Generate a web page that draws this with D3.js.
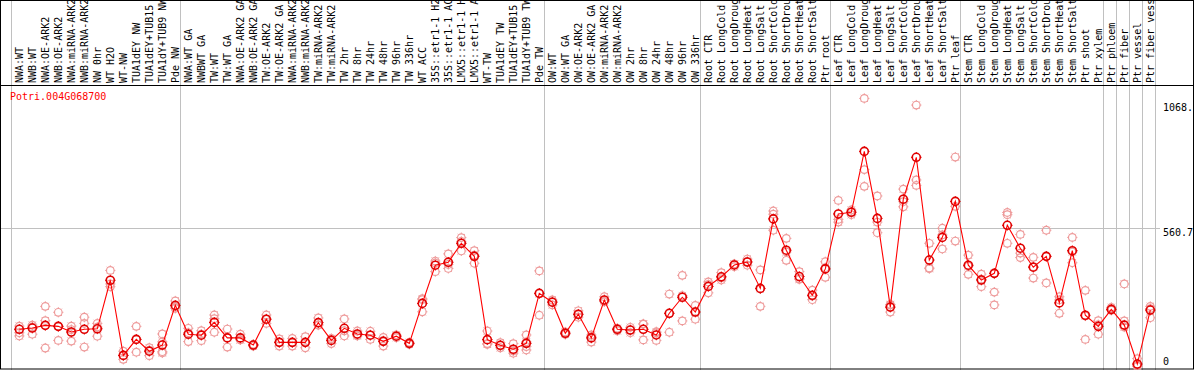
<!DOCTYPE html>
<html><head><meta charset="utf-8">
<script src="https://cdn.jsdelivr.net/npm/d3@7"></script>
<style>
body{margin:0;background:#fff}
svg{display:block}
text{font-family:"DejaVu Sans Mono","Liberation Mono",monospace;font-size:10px}
</style>
</head><body>
<svg id="chart" width="1194" height="370"></svg>
<script>
const geneId = "Potri.004G068700";
const categories = [
"NWA:WT","NWB:WT","NWA:OE-ARK2","NWB:OE-ARK2","NWA:miRNA-ARK2","NWB:miRNA-ARK2","NW 0hr","WT H2O","WT-NW","TUA1dEY NW",
"TUA1dEY+TUB15","TUA1dY+TUB9 NW","Pde NW","NWA:WT GA","NWBWT GA","TW:WT","TW:WT GA","NWA:OE-ARK2 GA","NWB:OE-ARK2 GA","TW:OE-ARK2",
"TW:OE-ARK2 GA","NWA:miRNA-ARK2","NWB:miRNA-ARK2","TW:miRNA-ARK2","TW:miRNA-ARK2","TW 2hr","TW 8hr","TW 24hr","TW 48hr","TW 96hr",
"TW 336hr","WT ACC","35S::etr1-1 H2","35S::etr1-1 AC","LMX5::etr1-1 H","LMX5::etr1-1 A","WT-TW","TUA1dEY TW","TUA1dEY+TUB15","TUA1dY+TUB9 TW",
"Pde TW","OW:WT","OW:WT GA","OW:OE-ARK2","OW:OE-ARK2 GA","OW:miRNA-ARK2","OW:miRNA-ARK2","OW 2hr","OW 8hr","OW 24hr",
"OW 48hr","OW 96hr","OW 336hr","Root CTR","Root LongCold","Root LongDroug","Root LongHeat","Root LongSalt","Root ShortCold","Root ShortDrou",
"Root ShortHeat","Root ShortSalt","Ptr root","Leaf CTR","Leaf LongCold","Leaf LongDroug","Leaf LongHeat","Leaf LongSalt","Leaf ShortCold","Leaf ShortDrou",
"Leaf ShortHeat","Leaf ShortSalt","Ptr leaf","Stem CTR","Stem LongCold","Stem LongDroug","Stem LongHeat","Stem LongSalt","Stem ShortCold","Stem ShortDrou",
"Stem ShortHeat","Stem ShortSalt","Ptr shoot","Ptr xylem","Ptr phloem","Ptr fiber","Ptr vessel","Ptr fiber vess"
];
const means = [
151,156,167,163,140,151,153,350,45,110,
62,87,248,131,127,179,116,116,87,192,
98,98,98,178,106,155,132,127,102,123,
94,256,411,423,500,447,109,86,70,94,
297,261,135,212,116,270,151,148,151,128,
216,281,221,325,364,412,424,317,599,472,
365,289,396,619,626,873,601,241,679,849,
432,524,670,411,351,378,573,480,403,447,
258,470,208,163,232,168,10,229
];
const replicates = [
[164,137,124],[168,131,160],[244,186,75],[220,106,163],[164,103,150],[200,175,79],[175,123,160],[390,335,324],[62,29,45],[163,58,110],
[76,44,66],[132,100,55,60],[266,236,242],[155,101,137],[145,105,131],[209,194,139],[152,79,117],[131,108,109],[90,83,88],[209,175,192],
[112,83,99],[114,83,97],[121,76,97],[197,168,169],[114,93,111],[193,145,124],[144,124,128],[143,110,128],[118,83,105],[124,117,128],
[94,98,90],[275,222,271],[428,385,420],[457,398,414],[523,469,508],[470,419,452],[144,90,93],[97,76,85],[93,54,63],[128,100,67,81],
[388,208,295],[270,250,263],[140,130,135],[226,200,210],[121,99,128],[283,263,264],[155,145,153],[148,137,159],[172,108,173],[141,106,137],
[294,139,215],[370,185,288],[248,192,223],[343,299,333],[381,351,360],[416,405,415],[436,411,425],[392,244,315],[631,618,553],[520,431,465],
[385,356,354],[310,271,286],[425,362,401],[674,586,597],[635,616,627],[1088,799,731],[692,586,543],[252,221,250],[720,648,669],[1061,757,735],
[500,397,400],[561,477,534],[850,650,509],[452,374,407],[375,324,354],[378,302,250],[625,616,500],[536,442,460],[443,359,405],[553,339,447],
[283,216,270],[524,421,465],[309,110,205],[186,131,170],[240,228,230],[335,185,160],[32,0,5],[244,198,235]
];
const groupStarts = [0,13,41,53,63,73,84,85,86,87,88];
const yTicks = [0, 560.7, 1068.1];
const yTickLabels = ["0","560.7","1068."];

const W = 1194, H = 370;
const svg = d3.select("#chart");
const n = categories.length;
const x = d3.scaleLinear().domain([0, n - 1]).range([19.3, 19.3 + 13 * (n - 1)]);
const y = d3.scaleLinear().domain([0, 1068.1]).range([366.5, 103.3]);

// group separators
svg.append("g").selectAll("line").data(groupStarts).join("line")
  .attr("x1", d => Math.round(x(d) - 8.5) + 0.5).attr("x2", d => Math.round(x(d) - 8.5) + 0.5)
  .attr("y1", 0).attr("y2", H)
  .attr("stroke", "#c0c0c0").attr("stroke-width", 1);

// horizontal grid at middle tick
svg.append("line")
  .attr("x1", 1).attr("x2", 1160)
  .attr("y1", Math.round(y(yTicks[1])) + 0.5).attr("y2", Math.round(y(yTicks[1])) + 0.5)
  .attr("stroke", "#c0c0c0");

// frame
svg.append("rect").attr("x", 0.5).attr("y", 0.5).attr("width", W - 1).attr("height", H - 1.5)
  .attr("fill", "none").attr("stroke", "#000");
svg.append("line").attr("x1", 0).attr("x2", W).attr("y1", 85.5).attr("y2", 85.5).attr("stroke", "#000");

// category labels
svg.append("g").selectAll("text").data(categories).join("text")
  .attr("transform", (d, i) => `translate(${x(i) + 3.6},83) rotate(-90)`)
  .attr("text-anchor", "start")
  .attr("fill", "#000")
  .text(d => d);

// y tick labels
svg.append("g").selectAll("text").data(yTicks).join("text")
  .attr("x", 1163)
  .attr("y", (d, i) => i === 0 ? 365 : y(d) + 8)
  .attr("fill", "#000")
  .text((d, i) => yTickLabels[i]);

// gene id
svg.append("text").attr("x", 10).attr("y", 100).attr("fill", "#ff0000").text(geneId);

function knobMarker(g, cx, cy, r, color, sw, count) {
  g.append("circle").attr("cx", cx).attr("cy", cy).attr("r", r)
    .attr("fill", "none").attr("stroke", color).attr("stroke-width", sw);
  for (let a = 0; a < count; a++) {
    const t = a * 2 * Math.PI / count;
    g.append("line")
      .attr("x1", cx + Math.cos(t) * r).attr("y1", cy + Math.sin(t) * r)
      .attr("x2", cx + Math.cos(t) * (r + 1.3)).attr("y2", cy + Math.sin(t) * (r + 1.3))
      .attr("stroke", color).attr("stroke-width", 1);
  }
}

// replicates
const rg = svg.append("g");
replicates.forEach((arr, i) => {
  arr.forEach(v => knobMarker(rg, x(i), y(v), 3.8, "#ee9a9a", 1.2, 8));
});

// mean line
svg.append("path")
  .datum(means)
  .attr("fill", "none").attr("stroke", "#ff0000").attr("stroke-width", 1.1)
  .attr("d", d3.line().x((d, i) => x(i)).y(d => y(d)));

// means
const mg = svg.append("g");
means.forEach((v, i) => knobMarker(mg, x(i), y(v), 4, "#e00000", 1.6, 4));
</script>
</body></html>
